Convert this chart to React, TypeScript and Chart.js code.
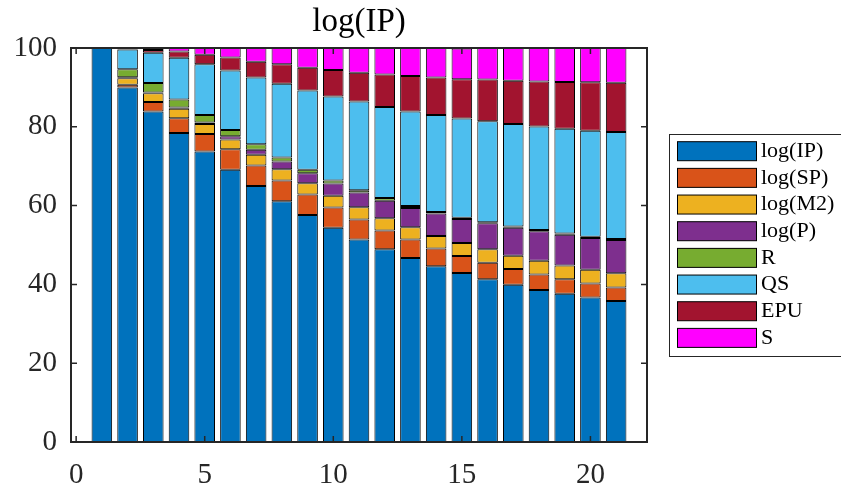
import React, { useEffect, useRef } from "react";
import { Chart, registerables } from "chart.js";

Chart.register(...registerables);

const categories = [1, 2, 3, 4, 5, 6, 7, 8, 9, 10, 11, 12, 13, 14, 15, 16, 17, 18, 19, 20, 21];
const xTicks = [0, 5, 10, 15, 20];
const yTicks = [0, 20, 40, 60, 80, 100];

const seriesNames = ["log(IP)", "log(SP)", "log(M2)", "log(P)", "R", "QS", "EPU", "S"];
const seriesColors = ["#0072BD", "#D95319", "#EDB120", "#7E2F8E", "#77AC30", "#4DBEEE", "#A2142F", "#FF00FF"];

const logIP = [100, 90.0, 83.9, 78.4, 73.7, 69.1, 65.0, 61.1, 57.6, 54.4, 51.4, 48.9, 46.7, 44.6, 42.9, 41.3, 39.9, 38.6, 37.6, 36.7, 35.8];
const logSP = [0, 0.7, 2.4, 3.8, 4.5, 5.2, 5.2, 5.3, 5.2, 5.1, 5.1, 4.8, 4.7, 4.5, 4.3, 4.2, 4.0, 3.9, 3.7, 3.5, 3.4];
const logM2 = [0, 1.6, 2.2, 2.4, 2.5, 2.5, 2.7, 2.8, 2.9, 3.0, 3.1, 3.1, 3.1, 3.2, 3.3, 3.4, 3.4, 3.5, 3.5, 3.5, 3.6];
const logP = [0, 0.3, 0.2, 0.3, 0.4, 0.8, 1.3, 2.0, 2.5, 3.1, 3.7, 4.4, 4.9, 5.7, 6.1, 6.6, 7.1, 7.5, 7.8, 8.1, 8.5];
const R = [0, 2.0, 2.4, 2.0, 1.9, 1.6, 1.4, 1.0, 0.9, 0.8, 0.6, 0.7, 0.5, 0.4, 0.3, 0.3, 0.3, 0.3, 0.3, 0.3, 0.2];
const QS = [0, 5.0, 7.7, 10.6, 12.9, 15.1, 16.9, 18.7, 20.1, 21.3, 22.5, 23.1, 24.0, 24.6, 25.2, 25.6, 26.0, 26.3, 26.6, 26.9, 27.2];
const EPU = [0, 0.2, 0.7, 1.6, 2.4, 3.3, 4.0, 5.0, 5.8, 6.7, 7.3, 8.3, 9.0, 9.5, 10.0, 10.6, 11.0, 11.4, 11.9, 12.3, 12.5];
const S = [0, 0.2, 0.6, 0.9, 1.7, 2.5, 3.5, 4.2, 5.0, 5.6, 6.3, 6.7, 7.1, 7.5, 7.8, 8.0, 8.3, 8.5, 8.6, 8.7, 8.8];

const seriesValues = [logIP, logSP, logM2, logP, R, QS, EPU, S];

const TITLE = "log(IP)";
const FONT = "'Liberation Serif', 'Times New Roman', serif";
const AXIS_COLOR = "#262626";

const framePlugin = {
  id: "matlabFrame",
  afterDraw(chart: any) {
    const { ctx, chartArea } = chart;
    const { left, right, top, bottom } = chartArea;
    const xs = chart.scales.x;
    const ys = chart.scales.y;
    ctx.save();
    // title
    ctx.fillStyle = "#000";
    ctx.font = `33px ${FONT}`;
    ctx.textAlign = "center";
    ctx.textBaseline = "alphabetic";
    ctx.fillText(TITLE, (left + right) / 2, 31);
    // frame
    ctx.strokeStyle = AXIS_COLOR;
    ctx.lineWidth = 2;
    ctx.strokeRect(left, top, right - left, bottom - top);
    // inward ticks
    const tl = 6;
    ctx.beginPath();
    xTicks.forEach((v) => {
      const px = xs.getPixelForValue(v);
      ctx.moveTo(px, bottom);
      ctx.lineTo(px, bottom - tl);
      ctx.moveTo(px, top);
      ctx.lineTo(px, top + tl);
    });
    yTicks.forEach((v) => {
      const py = ys.getPixelForValue(v);
      ctx.moveTo(left, py);
      ctx.lineTo(left + tl, py);
      ctx.moveTo(right, py);
      ctx.lineTo(right - tl, py);
    });
    ctx.lineWidth = 1.5;
    ctx.stroke();
    // legend
    const boxLeft = 669.5;
    const boxTop = 134.5;
    const boxH = 222;
    ctx.strokeStyle = AXIS_COLOR;
    ctx.lineWidth = 1;
    ctx.strokeRect(boxLeft, boxTop, 200, boxH);
    ctx.font = `22px ${FONT}`;
    ctx.textAlign = "left";
    ctx.textBaseline = "alphabetic";
    seriesNames.forEach((name, i) => {
      const cy = 151.2 + i * 26.67;
      ctx.fillStyle = seriesColors[i];
      ctx.fillRect(677, cy - 9.5, 80, 19);
      ctx.strokeStyle = "#000";
      ctx.lineWidth = 1;
      ctx.strokeRect(677.5, cy - 9.5, 79, 19);
      ctx.fillStyle = "#000";
      ctx.fillText(name, 761, cy + 5.8);
    });
    ctx.restore();
  },
};

export default function App() {
  const canvasRef = useRef<HTMLCanvasElement | null>(null);

  useEffect(() => {
    const canvas = canvasRef.current;
    if (!canvas) return;
    const datasets = seriesNames.map((name, i) => ({
      label: name,
      data: categories.map((c, j) => ({ x: c, y: seriesValues[i][j] })),
      backgroundColor: seriesColors[i],
      borderColor: "#000",
      borderWidth: 1,
      borderSkipped: false,
      barPercentage: 0.8,
      categoryPercentage: 1,
    }));
    const chart = new Chart(canvas, {
      type: "bar",
      data: { datasets },
      options: {
        animation: false,
        responsive: false,
        maintainAspectRatio: false,
        layout: { padding: { top: 48, right: 194, left: 0, bottom: 0 } },
        plugins: {
          legend: { display: false },
          title: { display: false },
          tooltip: { enabled: false },
        },
        scales: {
          x: {
            type: "linear",
            stacked: true,
            offset: false,
            min: -0.2,
            max: 22.2,
            afterBuildTicks: (scale: any) => {
              scale.ticks = xTicks.map((v) => ({ value: v }));
            },
            afterFit: (scale: any) => {
              scale.height = 47;
            },
            grid: { display: false, drawTicks: false },
            border: { display: false },
            ticks: {
              color: AXIS_COLOR,
              font: { family: FONT, size: 29 },
              padding: 16,
              maxRotation: 0,
              autoSkip: false,
            },
          },
          y: {
            stacked: true,
            min: 0,
            max: 100,
            afterBuildTicks: (scale: any) => {
              scale.ticks = yTicks.map((v) => ({ value: v }));
            },
            afterFit: (scale: any) => {
              scale.width = 71;
            },
            grid: { display: false, drawTicks: false },
            border: { display: false },
            ticks: {
              color: AXIS_COLOR,
              font: { family: FONT, size: 29 },
              padding: 14,
            },
          },
        },
      },
      plugins: [framePlugin],
    } as any);
    return () => chart.destroy();
  }, []);

  return (
    <div style={{ position: "absolute", left: 0, top: 0, width: 841, height: 489, background: "#fff" }}>
      <canvas ref={canvasRef} width={841} height={489} style={{ display: "block" }} />
    </div>
  );
}
